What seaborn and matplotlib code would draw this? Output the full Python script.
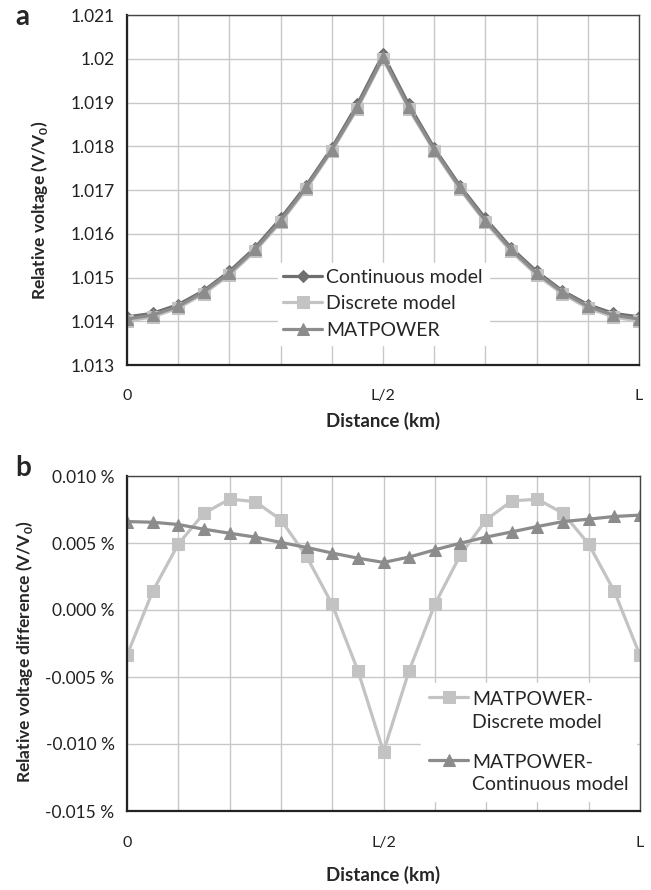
import numpy as np
import matplotlib
matplotlib.use("Agg")
import matplotlib.pyplot as plt
from matplotlib.legend_handler import HandlerLine2D
from matplotlib.ticker import FixedLocator
import seaborn as sns

# ---- data ----
positions = list(range(21))          # 21 nodes along the line, 0 .. L
tick_positions = [0, 2, 4, 6, 8, 10, 12, 14, 16, 18, 20]
x_labels = {0: "0", 10: "L/2", 20: "L"}

continuous_v = [1.01410, 1.01418, 1.01438, 1.01470, 1.01514, 1.01568, 1.01635,
                1.01710, 1.01796, 1.01896, 1.02010, 1.01896, 1.01796, 1.01710,
                1.01635, 1.01568, 1.01514, 1.01470, 1.01438, 1.01418, 1.01410]
discrete_v = [1.01400, 1.01410, 1.01430, 1.01463, 1.01506, 1.01560, 1.01626,
              1.01702, 1.01789, 1.01886, 1.02000, 1.01886, 1.01789, 1.01702,
              1.01626, 1.01560, 1.01506, 1.01463, 1.01430, 1.01410, 1.01400]
matpower_v = [1.01405, 1.01414, 1.01434, 1.01467, 1.01510, 1.01564, 1.01630,
              1.01706, 1.01792, 1.01890, 1.02003, 1.01890, 1.01792, 1.01706,
              1.01630, 1.01564, 1.01510, 1.01467, 1.01434, 1.01414, 1.01405]

diff_discrete = [-0.00338, 0.00139, 0.00492, 0.00722, 0.00827, 0.00809, 0.00673,
                 0.00400, 0.00042, -0.00452, -0.01058, -0.00452, 0.00042, 0.00412,
                 0.00673, 0.00814, 0.00827, 0.00722, 0.00492, 0.00139, -0.00338]
diff_continuous = [0.00660, 0.00655, 0.00638, 0.00603, 0.00573, 0.00544, 0.00504,
                   0.00467, 0.00425, 0.00387, 0.00355, 0.00395, 0.00449, 0.00499,
                   0.00544, 0.00583, 0.00623, 0.00660, 0.00678, 0.00698, 0.00708]

a_yticks = [1.013, 1.014, 1.015, 1.016, 1.017, 1.018, 1.019, 1.02, 1.021]
a_yticklabels = ["1.013", "1.014", "1.015", "1.016", "1.017", "1.018", "1.019", "1.02", "1.021"]
b_yticks = [-0.015, -0.010, -0.005, 0.0, 0.005, 0.010]
b_yticklabels = ["-0.015 %", "-0.010 %", "-0.005 %", "0.000 %", "0.005 %", "0.010 %"]

# ---- style ----
sns.set_style("white")
plt.rcParams["font.family"] = ["Lato", "DejaVu Sans"]
plt.rcParams["mathtext.fontset"] = "custom"
plt.rcParams["mathtext.rm"] = "Lato"
plt.rcParams["mathtext.bf"] = "Lato:bold"

DARK = "#6f6f6f"
MID = "#8c8c8c"
LIGHT = "#c3c3c3"
GRID = "#c8c8c8"
LEG_FS = 14


class FirstLineHandler(HandlerLine2D):
    # puts the legend handle next to the first line of a two-line label
    def __init__(self, shift=0.0, **kw):
        super().__init__(**kw)
        self.shift = shift

    def create_artists(self, legend, orig_handle, xdescent, ydescent,
                       width, height, fontsize, trans):
        arts = super().create_artists(legend, orig_handle, xdescent, ydescent,
                                      width, height, fontsize, trans)
        for a in arts:
            a.set_ydata(np.asarray(a.get_ydata()) + self.shift * fontsize)
        return arts


def style_axes(ax, yticks, yticklabels, xpad):
    ax.set_xlim(0, 20)
    ax.set_ylim(yticks[0], yticks[-1])
    ax.xaxis.set_major_locator(FixedLocator(tick_positions))
    ax.set_xticklabels([x_labels.get(t, "") for t in tick_positions])
    ax.set_yticks(yticks)
    ax.set_yticklabels(yticklabels)
    ax.grid(True, color=GRID, linewidth=1.0)
    ax.set_axisbelow(True)
    ax.tick_params(axis="x", direction="out", length=4, width=1.3, color="#222222",
                   pad=xpad, labelsize=11.5, labelcolor="#222222")
    ax.tick_params(axis="y", direction="out", length=4, width=1.3, color="#222222",
                   pad=5, labelsize=12.5, labelcolor="#222222")
    for side in ["left", "bottom"]:
        ax.spines[side].set_color("#222222")
        ax.spines[side].set_linewidth(1.6)
    for side in ["top", "right"]:
        ax.spines[side].set_color("#444444")
        ax.spines[side].set_linewidth(1.0)


fig = plt.figure(figsize=(6.51, 8.90), dpi=100)
ax1 = fig.add_axes([127 / 651, 1 - 365 / 890, 512 / 651, 350 / 890])
ax2 = fig.add_axes([127 / 651, 1 - 811 / 890, 513 / 651, 335 / 890])

# ---- panel a ----
sns.lineplot(x=positions, y=continuous_v, ax=ax1, color=DARK, marker="D",
             markersize=6.5, markeredgecolor=DARK, linewidth=2.3, label="Continuous model")
sns.lineplot(x=positions, y=discrete_v, ax=ax1, color=LIGHT, marker="s",
             markersize=8, markeredgecolor=LIGHT, linewidth=2.3, label="Discrete model")
sns.lineplot(x=positions, y=matpower_v, ax=ax1, color=MID, marker="^",
             markersize=8.5, markeredgecolor=MID, linewidth=2.3, label="MATPOWER")
style_axes(ax1, a_yticks, a_yticklabels, 13)
ax1.set_xlabel("Distance (km)", fontsize=13.5, fontweight="bold")
ax1.set_ylabel(r"Relative voltage (V/V$_\mathbf{0}$)", fontsize=12.5, fontweight="bold")
ax1.xaxis.set_label_coords(0.5, -0.135)
ax1.yaxis.set_label_coords(-0.15, 0.443)
leg1 = ax1.legend(loc="lower left", bbox_to_anchor=(0.275, 0.03), frameon=True,
                  fontsize=LEG_FS, handlelength=2.0, handletextpad=0.2,
                  labelspacing=0.5, borderpad=0.3, fancybox=False)
leg1.get_frame().set_edgecolor("white")
leg1.get_frame().set_alpha(1.0)

# ---- panel b ----
sns.lineplot(x=positions, y=diff_discrete, ax=ax2, color=LIGHT, marker="s",
             markersize=8, markeredgecolor=LIGHT, linewidth=2.3,
             label="MATPOWER-\nDiscrete model")
sns.lineplot(x=positions, y=diff_continuous, ax=ax2, color=MID, marker="^",
             markersize=8.5, markeredgecolor=MID, linewidth=2.3,
             label="MATPOWER-\nContinuous model")
style_axes(ax2, b_yticks, b_yticklabels, 14)
ax2.set_xlabel("Distance (km)", fontsize=13.5, fontweight="bold")
ax2.set_ylabel(r"Relative voltage difference (V/V$_\mathbf{0}$)", fontsize=12.5,
               fontweight="bold")
ax2.xaxis.set_label_coords(0.5, -0.165)
ax2.yaxis.set_label_coords(-0.18, 0.475)
h, l = ax2.get_legend_handles_labels()
leg2 = ax2.legend(h, l, loc="lower left", bbox_to_anchor=(0.555, 0.0), frameon=True,
                  fontsize=LEG_FS, handlelength=2.0, handletextpad=0.2,
                  labelspacing=1.2, borderpad=0.4, fancybox=False,
                  handler_map={hh: FirstLineHandler(shift=0.72) for hh in h})
for t in leg2.get_texts():
    t.set_linespacing(1.4)
leg2.get_frame().set_edgecolor("white")
leg2.get_frame().set_alpha(1.0)

fig.text(15 / 651, 1 - 17 / 890, "a", fontsize=20, fontweight="bold", va="center")
fig.text(15 / 651, 1 - 468 / 890, "b", fontsize=20, fontweight="bold", va="center")

fig.savefig("out.png", dpi=100, facecolor="white")
